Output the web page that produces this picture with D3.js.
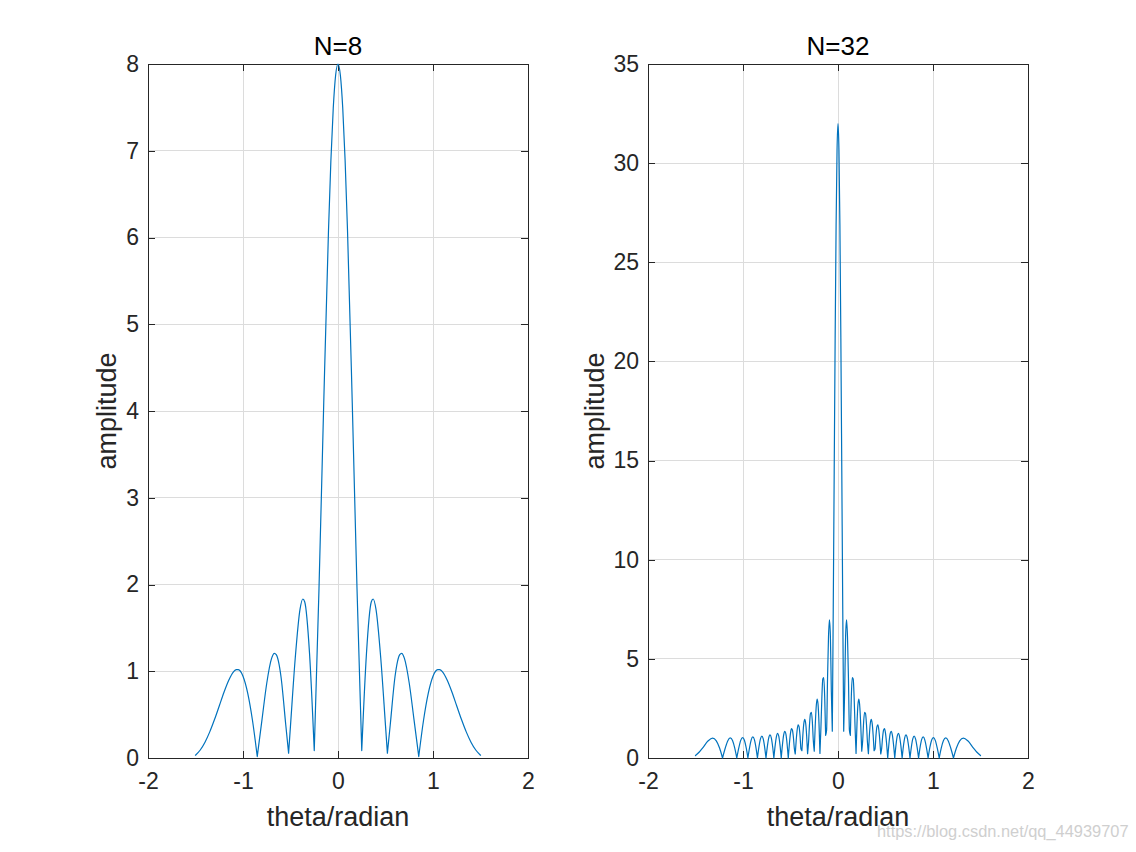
<!DOCTYPE html>
<html><head><meta charset="utf-8">
<script src="https://cdn.jsdelivr.net/npm/d3@7"></script>
<style>body{margin:0;background:#fff} svg text{font-family:"Liberation Sans",Arial,Helvetica,sans-serif}</style>
</head><body>
<svg id="chart" width="1136" height="852"></svg>
<script>
const xTicks = [-2, -1, 0, 1, 2];
const yTicks8 = [0, 1, 2, 3, 4, 5, 6, 7, 8];
const yTicks32 = [0, 5, 10, 15, 20, 25, 30, 35];
const titles = ["N=8", "N=32"];
const xLabel = "theta/radian";
const yLabel = "amplitude";
const watermark = "https://blog.csdn.net/qq_44939707";

// [theta, amplitude] read from the N=8 panel
const curve8 = [
[-1.5,0.032],[-1.45,0.092],[-1.4,0.182],[-1.35,0.301],[-1.3,0.443],[-1.25,0.600],[-1.2,0.758],[-1.15,0.896],
[-1.1,0.993],[-1.07,1.019],[-1.05,1.018],[-1.0,0.942],[-0.95,0.745],[-0.9,0.432],[-0.85,0.017],[-0.8,0.442],
[-0.75,0.862],[-0.7,1.145],[-0.67,1.206],[-0.65,1.191],[-0.6,0.937],[-0.55,0.384],[-0.52,0.056],[-0.5,0.373],
[-0.45,1.153],[-0.4,1.713],[-0.37,1.833],[-0.35,1.798],[-0.3,1.212],[-0.25,0.086],[-0.2,1.953],[-0.15,4.097],
[-0.1,6.084],[-0.075,6.885],[-0.05,7.490],[-0.025,7.871],[0,8],
[0.025,7.871],[0.05,7.490],[0.075,6.885],[0.1,6.084],[0.15,4.097],[0.2,1.953],[0.25,0.086],[0.3,1.212],
[0.35,1.798],[0.37,1.833],[0.4,1.713],[0.45,1.153],[0.5,0.373],[0.52,0.056],[0.55,0.384],[0.6,0.937],
[0.65,1.191],[0.67,1.206],[0.7,1.145],[0.75,0.862],[0.8,0.442],[0.85,0.017],[0.9,0.432],[0.95,0.745],
[1.0,0.942],[1.05,1.018],[1.07,1.019],[1.1,0.993],[1.15,0.896],[1.2,0.758],[1.25,0.600],[1.3,0.443],
[1.35,0.301],[1.4,0.182],[1.45,0.092],[1.5,0.032]
];

// [theta, amplitude] read from the N=32 panel
const curve32 = [
[-1.5,0.126],[-1.46,0.304],[-1.4263,0.500],[-1.3663,0.867],[-1.3201,1.001],[-1.2811,0.868],[-1.2466,0.502],[-1.2154,0],
[-1.1866,0.503],[-1.1597,0.874],[-1.1343,1.011],[-1.1103,0.878],[-1.0874,0.508],[-1.0654,0],
[-1.0443,0.512],[-1.0239,0.889],[-1.0042,1.031],[-0.9851,0.897],[-0.9665,0.520],[-0.9484,0],
[-0.9308,0.525],[-0.9135,0.915],[-0.8967,1.062],[-0.8801,0.925],[-0.8640,0.538],[-0.8481,0],
[-0.8325,0.545],[-0.8171,0.951],[-0.8020,1.106],[-0.7871,0.966],[-0.7725,0.562],[-0.7580,0],
[-0.7438,0.572],[-0.7297,1.000],[-0.7158,1.166],[-0.7021,1.020],[-0.6885,0.595],[-0.6751,0],
[-0.6619,0.608],[-0.6487,1.065],[-0.6357,1.245],[-0.6228,1.092],[-0.6101,0.638],[-0.5974,0],
[-0.5849,0.656],[-0.5724,1.152],[-0.5601,1.350],[-0.5478,1.187],[-0.5357,0.696],[-0.5236,0],
[-0.52,0.222],[-0.51,0.807],[-0.50,1.257],[-0.49,1.478],[-0.48,1.416],[-0.47,1.071],[-0.46,0.496],[-0.45,0.201],
[-0.44,0.885],[-0.43,1.414],[-0.42,1.669],[-0.41,1.582],[-0.40,1.154],[-0.39,0.458],[-0.38,0.370],[-0.37,1.158],
[-0.36,1.730],[-0.35,1.947],[-0.34,1.739],[-0.33,1.125],[-0.32,0.219],[-0.31,0.792],[-0.30,1.683],[-0.29,2.239],
[-0.28,2.306],[-0.27,1.832],[-0.26,0.887],[-0.25,0.343],[-0.24,1.589],[-0.23,2.551],[-0.22,2.974],[-0.21,2.702],
[-0.20,1.734],[-0.19,0.234],[-0.18,1.488],[-0.17,3.031],[-0.16,3.990],[-0.15,4.050],[-0.14,3.071],[-0.13,1.142],
[-0.12,1.405],[-0.11,4.037],[-0.10,6.106],[-0.09,6.972],[-0.08,6.132],[-0.07,3.333],[-0.06,1.352],[-0.05,7.506],
[-0.04,14.42],[-0.03,21.19],[-0.02,26.88],[-0.01,30.67],[0,32],
[0.01,30.67],[0.02,26.88],[0.03,21.19],[0.04,14.42],[0.05,7.506],[0.06,1.352],[0.07,3.333],[0.08,6.132],
[0.09,6.972],[0.10,6.106],[0.11,4.037],[0.12,1.405],[0.13,1.142],[0.14,3.071],[0.15,4.050],[0.16,3.990],
[0.17,3.031],[0.18,1.488],[0.19,0.234],[0.20,1.734],[0.21,2.702],[0.22,2.974],[0.23,2.551],[0.24,1.589],
[0.25,0.343],[0.26,0.887],[0.27,1.832],[0.28,2.306],[0.29,2.239],[0.30,1.683],[0.31,0.792],[0.32,0.219],
[0.33,1.125],[0.34,1.739],[0.35,1.947],[0.36,1.730],[0.37,1.158],[0.38,0.370],[0.39,0.458],[0.40,1.154],
[0.41,1.582],[0.42,1.669],[0.43,1.414],[0.44,0.885],[0.45,0.201],[0.46,0.496],[0.47,1.071],[0.48,1.416],
[0.49,1.478],[0.50,1.257],[0.51,0.807],[0.52,0.222],
[0.5236,0],[0.5357,0.696],[0.5478,1.187],[0.5601,1.350],[0.5724,1.152],[0.5849,0.656],
[0.5974,0],[0.6101,0.638],[0.6228,1.092],[0.6357,1.245],[0.6487,1.065],[0.6619,0.608],
[0.6751,0],[0.6885,0.595],[0.7021,1.020],[0.7158,1.166],[0.7297,1.000],[0.7438,0.572],
[0.7580,0],[0.7725,0.562],[0.7871,0.966],[0.8020,1.106],[0.8171,0.951],[0.8325,0.545],
[0.8481,0],[0.8640,0.538],[0.8801,0.925],[0.8967,1.062],[0.9135,0.915],[0.9308,0.525],
[0.9484,0],[0.9665,0.520],[0.9851,0.897],[1.0042,1.031],[1.0239,0.889],[1.0443,0.512],
[1.0654,0],[1.0874,0.508],[1.1103,0.878],[1.1343,1.011],[1.1597,0.874],[1.1866,0.503],
[1.2154,0],[1.2466,0.502],[1.2811,0.868],[1.3201,1.001],[1.3663,0.867],[1.4263,0.500],[1.46,0.304],[1.5,0.126]
];

const panels = [
  {title: titles[0], data: curve8, yTicks: yTicks8, left: 148, right: 528, yLabelOffset: 32},
  {title: titles[1], data: curve32, yTicks: yTicks32, left: 648, right: 1028, yLabelOffset: 44}
];
const axTop = 64, axBottom = 758;
const axisColor = "#262626";
const lineColor = "#0072BD";
const gridColor = "#dcdcdc";
const tickFont = 23, labelFont = 27, titleFont = 26;

// split at local minima so that nulls stay sharp
function splitAtMinima(pts) {
  const segs = [];
  let start = 0;
  for (let i = 1; i < pts.length - 1; i++) {
    if (pts[i][1] <= pts[i-1][1] && pts[i][1] <= pts[i+1][1]) {
      segs.push(pts.slice(start, i + 1));
      start = i;
    }
  }
  segs.push(pts.slice(start));
  return segs;
}

const svg = d3.select("#chart");

panels.forEach(p => {
  const yTicks = p.yTicks;
  const x = d3.scaleLinear().domain([xTicks[0], xTicks[xTicks.length-1]]).range([p.left, p.right]);
  const y = d3.scaleLinear().domain([yTicks[0], yTicks[yTicks.length-1]]).range([axBottom, axTop]);
  const g = svg.append("g");

  // grid
  g.append("g").selectAll("line").data(xTicks).join("line")
    .attr("x1", d => x(d)).attr("x2", d => x(d))
    .attr("y1", axTop).attr("y2", axBottom)
    .attr("stroke", gridColor).attr("stroke-width", 1).attr("shape-rendering", "crispEdges");
  g.append("g").selectAll("line").data(yTicks).join("line")
    .attr("y1", d => y(d)).attr("y2", d => y(d))
    .attr("x1", p.left).attr("x2", p.right)
    .attr("stroke", gridColor).attr("stroke-width", 1).attr("shape-rendering", "crispEdges");

  // axes with inward ticks
  const fmt = d => String(d);
  const styleAxis = sel => {
    sel.select(".domain").remove();
    sel.selectAll(".tick line").attr("stroke", axisColor).attr("stroke-width", 1).attr("shape-rendering", "crispEdges");
    sel.selectAll(".tick text").attr("fill", axisColor).attr("font-size", tickFont)
      .attr("font-family", "'Liberation Sans', Arial, Helvetica, sans-serif");
  };
  g.append("g").attr("transform", `translate(0,${axBottom})`)
    .call(d3.axisBottom(x).tickValues(xTicks).tickFormat(fmt).tickSize(-7).tickSizeOuter(0).tickPadding(15))
    .call(styleAxis);
  g.append("g").attr("transform", `translate(0,${axTop})`)
    .call(d3.axisTop(x).tickValues(xTicks).tickFormat("").tickSize(-7).tickSizeOuter(0))
    .call(styleAxis);
  g.append("g").attr("transform", `translate(${p.left},0)`)
    .call(d3.axisLeft(y).tickValues(yTicks).tickFormat(fmt).tickSize(-7).tickSizeOuter(0).tickPadding(9))
    .call(styleAxis);
  g.append("g").attr("transform", `translate(${p.right},0)`)
    .call(d3.axisRight(y).tickValues(yTicks).tickFormat("").tickSize(-7).tickSizeOuter(0))
    .call(styleAxis);

  // box
  g.append("rect").attr("x", p.left).attr("y", axTop)
    .attr("width", p.right - p.left).attr("height", axBottom - axTop)
    .attr("fill", "none").attr("stroke", axisColor).attr("stroke-width", 1).attr("shape-rendering", "crispEdges");

  // curve
  const line = d3.line().x(d => x(d[0])).y(d => y(d[1])).curve(d3.curveMonotoneX);
  const dStr = splitAtMinima(p.data).map(s => line(s)).join("");
  g.append("path").attr("d", dStr).attr("fill", "none")
    .attr("stroke", lineColor).attr("stroke-width", 1.2)
    .attr("stroke-linecap", "round").attr("stroke-linejoin", "round");

  // texts
  const cx = (p.left + p.right) / 2;
  g.append("text").attr("x", cx).attr("y", 55).attr("text-anchor", "middle")
    .attr("font-size", titleFont).attr("fill", "#000").text(p.title);
  g.append("text").attr("x", cx).attr("y", 826).attr("text-anchor", "middle")
    .attr("font-size", labelFont).attr("fill", axisColor).text(xLabel);
  g.append("text").attr("transform", `translate(${p.left - p.yLabelOffset},${(axTop + axBottom) / 2}) rotate(-90)`)
    .attr("text-anchor", "middle").attr("font-size", labelFont).attr("fill", axisColor).text(yLabel);
});

svg.append("text").attr("x", 877).attr("y", 837).attr("font-size", 16.4)
  .attr("fill", "#cfcfcf").text(watermark);
</script>
</body></html>
